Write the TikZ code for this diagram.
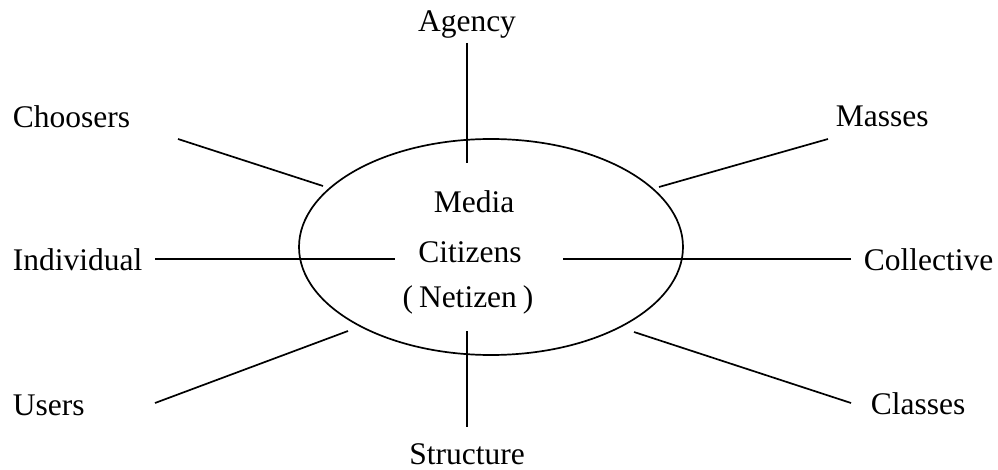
\documentclass[tikz,border=0pt]{standalone}
\usepackage{fontspec}
\setmainfont{Liberation Serif}

\begin{document}
\begin{tikzpicture}[x=1pt,y=-1pt,line width=1.7pt,
  every node/.style={font=\fontsize{31.5}{36}\selectfont,inner sep=0pt}]
\useasboundingbox (0,0) rectangle (998,470);
\draw (491,247) ellipse [x radius=192, y radius=108];
\node (media) at (474,213) [anchor=base] {Media};
\node (citizens) at (470,262) [anchor=base] {Citizens};
\node (netizen) at (468,307) [anchor=base] {(\hspace{6pt}Netizen\hspace{6pt})};
\node (agency) at (467,32) [anchor=base] {Agency};
\node (structure) at (467,464) [anchor=base] {Structure};
\node (choosers) at (12,128) [anchor=base west] {Choosers};
\node (individual) at (12,271) [anchor=base west] {Individual};
\node (users) at (12,415) [anchor=base west] {Users};
\node (masses) at (835,127) [anchor=base west] {Masses};
\node (collective) at (863,271) [anchor=base west] {Collective};
\node (classes) at (870,414) [anchor=base west] {Classes};
\coordinate (agencyA) at (467,43);
\coordinate (agencyB) at (467,163);
\coordinate (structureA) at (467,331);
\coordinate (structureB) at (467,427);
\coordinate (choosersA) at (178,139);
\coordinate (choosersB) at (323,186);
\coordinate (individualA) at (155,259);
\coordinate (individualB) at (395,259);
\coordinate (usersA) at (155,403);
\coordinate (usersB) at (348,331);
\coordinate (massesA) at (828,139);
\coordinate (massesB) at (659,187);
\coordinate (collectiveA) at (851,259);
\coordinate (collectiveB) at (563,259);
\coordinate (classesA) at (851,403);
\coordinate (classesB) at (634,332);
\draw (agencyA)--(agencyB);
\draw (structureA)--(structureB);
\draw (choosersA)--(choosersB);
\draw (individualA)--(individualB);
\draw (usersA)--(usersB);
\draw (massesA)--(massesB);
\draw (collectiveA)--(collectiveB);
\draw (classesA)--(classesB);
\end{tikzpicture}
\end{document}
